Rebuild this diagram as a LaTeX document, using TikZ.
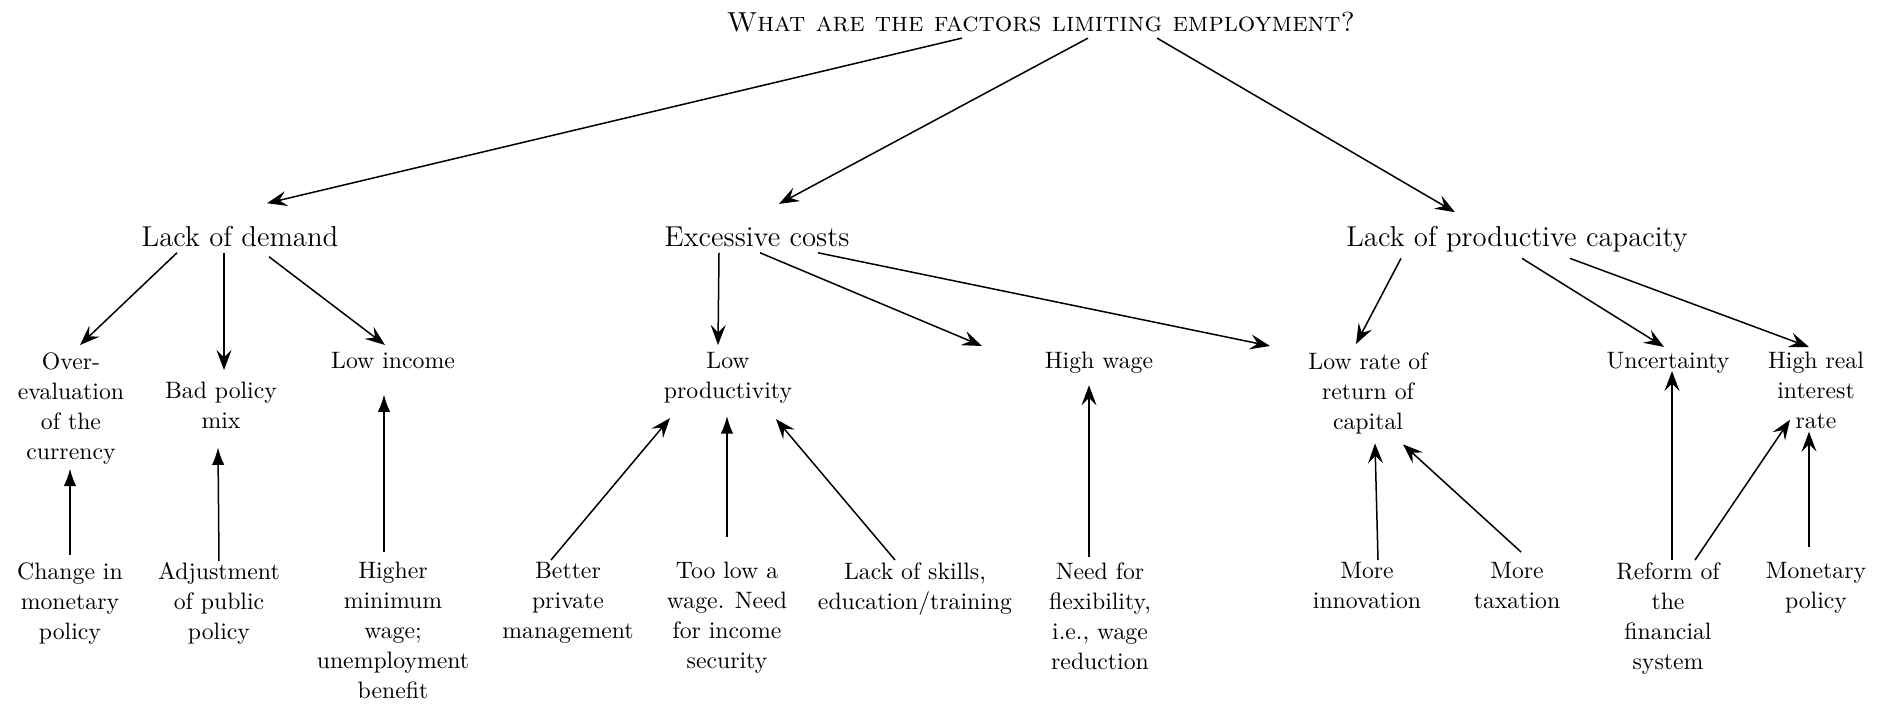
\documentclass[tikz,border=0pt]{standalone}
\usetikzlibrary{arrows.meta,calc}
\tikzset{
  cause/.style={inner sep=0pt, anchor=base, font=\fontsize{11.5}{14}\selectfont},
  factor/.style={inner sep=0pt, anchor=north, align=center, font=\fontsize{9.5}{12}\selectfont},
  link/.style={line width=0.6pt, -{Stealth[length=8pt,width=6pt,inset=3pt]}},
  push/.style={line width=0.6pt, -{Latex[length=7pt,width=5pt]}},
}
\begin{document}
\begin{tikzpicture}[x=0.4pt,y=-0.4pt]
\useasboundingbox (0,0) rectangle (1885,704);
\node (q) [inner sep=0pt, anchor=base, font=\fontsize{11}{13}\selectfont\scshape] at (1041,32) {What are the factors limiting employment?};
% causes
\node (dem) [cause] at (240,247) {Lack of demand};
\node (cost) [cause] at (757,247) {Excessive costs};
\node (cap) [cause] at (1517,247) {Lack of productive capacity};
% factors
\node (overev) [factor] at (71,352) {Over-\\evaluation\\of the\\currency};
\node (mix) [factor] at (221,382) {Bad policy\\mix};
\node (inc) [factor] at (393,352) {Low income};
\node (prod) [factor] at (728,352) {Low\\productivity};
\node (wage) [factor] at (1099,352) {High wage};
\node (ret) [factor] at (1368,352) {Low rate of\\return of\\capital};
\node (unc) [factor] at (1668,352) {Uncertainty};
\node (rate) [factor] at (1816,352) {High real\\interest\\rate};
% measures
\node (chg) [factor] at (70,562) {Change in\\monetary\\policy};
\node (adj) [factor] at (219,562) {Adjustment\\of public\\policy};
\node (minw) [factor] at (393,562) {Higher\\minimum\\wage;\\unemployment\\benefit};
\node (mgmt) [factor] at (568,562) {Better\\private\\management};
\node (sec) [factor] at (727,562) {Too low a\\wage. Need\\for income\\security};
\node (skill) [factor] at (915,562) {Lack of skills,\\education/training};
\node (flex) [factor] at (1100,562) {Need for\\flexibility,\\i.e., wage\\reduction};
\node (innov) [factor] at (1367,562) {More\\innovation};
\node (tax) [factor] at (1517,562) {More\\taxation};
\node (ref) [factor] at (1668,562) {Reform of\\the\\financial\\system};
\node (mon) [factor] at (1816,562) {Monetary\\policy};

\draw [link] ($(q.south)+(-79,5)$) -- ($(dem.north)+(27,-23)$);
\draw [link] ($(q.south)+(47,5)$) -- ($(cost.north)+(22,-23)$);
\draw [link] ($(q.south)+(116,5)$) -- ($(cap.north)+(-62,-14)$);

\draw [link] ($(dem.south)+(-63,5)$) -- ($(overev.north)+(9,-7)$);
\draw [link] ($(dem.south)+(-16,5)$) -- ($(mix.north)+(3,-12)$);
\draw [link] ($(dem.south)+(29,9)$) -- ($(inc.north)+(-8,-7)$);
\draw [link] ($(cost.south)+(-38,5)$) -- ($(prod.north)+(-10,-7)$);
\draw [link] ($(cost.south)+(3,5)$) -- ($(wage.north)+(-117,-6)$);
\draw [link] ($(cost.south)+(61,5)$) -- ($(ret.north)+(-98,-6)$);
\draw [link] ($(cap.south)+(-116,5)$) -- ($(ret.north)+(-12,-8)$);
\draw [link] ($(cap.south)+(5,5)$) -- ($(unc.north)+(-4,-5)$);
\draw [link] ($(cap.south)+(53,5)$) -- ($(rate.north)+(-7,-5)$);

\draw [push] ($(chg.north)+(0,-7)$) -- ($(overev.south)+(-1,4)$);
\draw [push] ($(adj.north)+(0,-1)$) -- ($(mix.south)+(-3,18)$);
\draw [push] ($(minw.north)+(-9,-10)$) -- ($(inc.south)+(-9,25)$);
\draw [link] ($(mgmt.north)+(-17,-2)$) -- ($(prod.south)+(-58,14)$);
\draw [push] ($(sec.north)+(0,-25)$) -- ($(prod.south)+(-1,12)$);
\draw [link] ($(skill.north)+(-20,-2)$) -- ($(prod.south)+(48,15)$);
\draw [link] ($(flex.north)+(-11,-5)$) -- ($(wage.south)+(-10,11)$);
\draw [link] ($(innov.north)+(11,-2)$) -- ($(ret.south)+(7,9)$);
\draw [link] ($(tax.north)+(4,-10)$) -- ($(ret.south)+(35,10)$);
\draw [link] ($(ref.north)+(4,-2)$) -- ($(unc.south)+(4,-3)$);
\draw [link] ($(ref.north)+(27,-2)$) -- ($(rate.south)+(-26,-10)$);
\draw [link] ($(mon.north)+(-7,-15)$) -- ($(rate.south)+(-7,2)$);
\end{tikzpicture}
\end{document}
